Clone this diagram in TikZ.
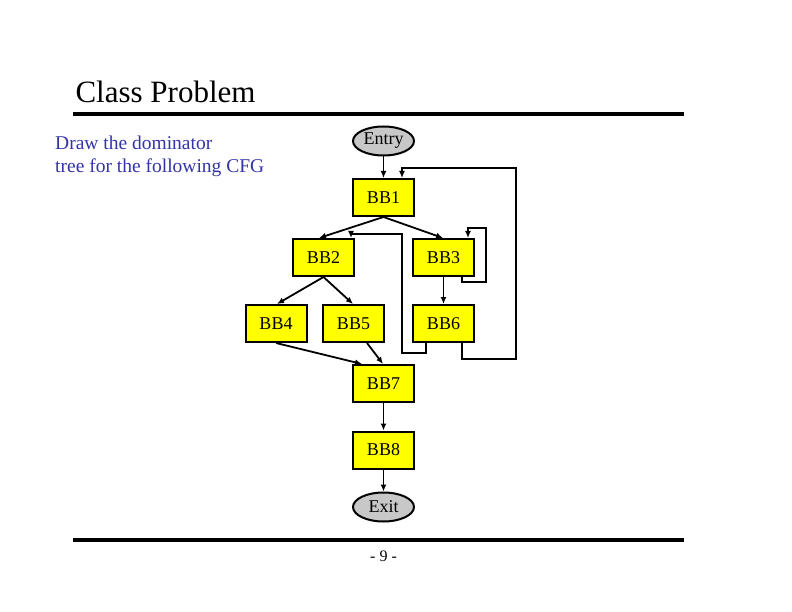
\documentclass[tikz,border=0pt]{standalone}
\usepackage{fontspec}
\setmainfont{Liberation Serif}
\usetikzlibrary{arrows.meta,shapes.geometric}
\definecolor{bbyellow}{RGB}{255,255,0}
\definecolor{ovgray}{RGB}{200,200,200}
\definecolor{txtblue}{RGB}{51,51,170}
\begin{document}
\begin{tikzpicture}[x=1pt,y=-1pt,
  bb/.style={draw,line width=2pt,fill=bbyellow,minimum width=61pt,minimum height=37pt,inner sep=0pt,font=\fontsize{18}{20}\selectfont},
  ov/.style={draw,ellipse,line width=2pt,fill=ovgray,minimum width=61pt,minimum height=29pt,inner sep=0pt,font=\fontsize{18}{20}\selectfont},
  ed/.style={line width=1.8pt,-{Latex[length=7pt,width=6pt]}},
  rule/.style={line width=4.5pt}]
\useasboundingbox (0,0) rectangle (792,612);
\node[anchor=base west,font=\fontsize{31}{34}\selectfont] (title) at (72,103) {Class Problem};
\coordinate (r1a) at (73,114); \coordinate (r1b) at (684,114);
\draw[rule] (r1a) -- (r1b);
\coordinate (r2a) at (73,540); \coordinate (r2b) at (684,540);
\draw[rule] (r2a) -- (r2b);
\node[anchor=north west,align=left,text=txtblue,font=\fontsize{19.5}{23}\selectfont,inner sep=0pt] (task) at (55,136) {Draw the dominator\\tree for the following CFG};
\node[font=\fontsize{16}{18}\selectfont] (pg) at (383.5,556) {- 9 -};

\node[ov] (entry) at (383.5,141) {Entry};
\node[bb] (bb1) at (383.5,197.5) {BB1};
\node[bb] (bb2) at (323.5,257.5) {BB2};
\node[bb] (bb3) at (443.5,257.5) {BB3};
\node[bb] (bb4) at (276,323.5) {BB4};
\node[bb] (bb5) at (353.5,323.5) {BB5};
\node[bb] (bb6) at (443.5,323.5) {BB6};
\node[bb] (bb7) at (383.5,383.5) {BB7};
\node[bb] (bb8) at (383.5,450) {BB8};
\node[ov] (exit) at (383.5,507) {Exit};

\draw[ed] (entry) -- (bb1);
\draw[ed] (bb1.south) -- (bb2.north -| 319,0);
\draw[ed] (bb1.south) -- (bb3.north -| 443,0);
\draw[ed] (bb2.south) -- (bb4.north -| 277,0);
\draw[ed] (bb2.south) -- (bb5.north -| 353,0);
\draw[ed] (bb3) -- (bb6);
\draw[ed] (bb4.south) -- (bb7.north -| 362,0);
\draw[ed] (bb5.south -| 367,0) -- (bb7.north -| 383,0);
\draw[ed] (bb7) -- (bb8);
\draw[ed] (bb8) -- (exit);
% BB3 self loop
\draw[ed] (bb3.south -| 462,0) -- (462,282) -- (486,282) -- (486,228) -- (468,228) -- (bb3.north -| 468,0);
% BB6 -> BB1
\draw[ed] (bb6.south -| 462,0) -- (462,359) -- (516,359) -- (516,168) -- (402,168) -- (bb1.north -| 402,0);
% BB6 -> BB2
\draw[ed] (bb6.south -| 426,0) -- (426,353) -- (402,353) -- (402,234) -- (351,234) -- (bb2.north -| 351,0);
\end{tikzpicture}
\end{document}
